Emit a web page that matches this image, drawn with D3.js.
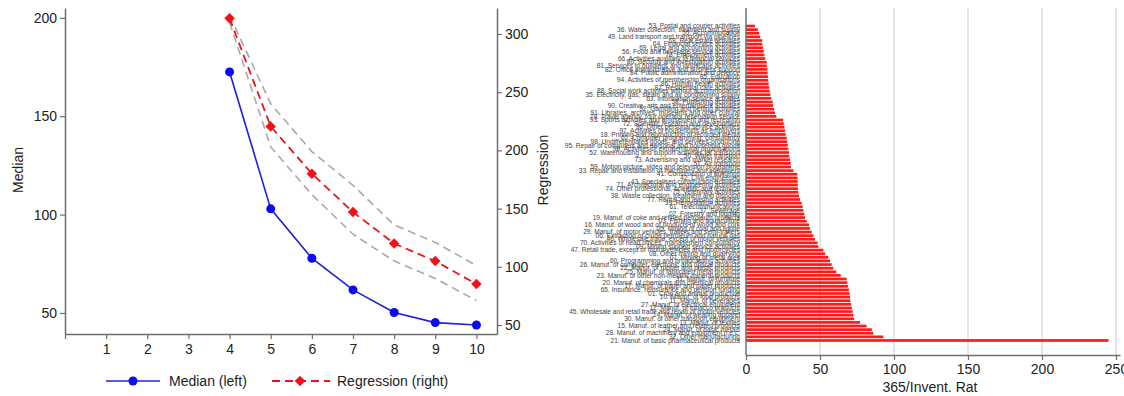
<!DOCTYPE html>
<html><head><meta charset="utf-8">
<script src="https://cdn.jsdelivr.net/npm/d3@7"></script>
<style>
html,body{margin:0;padding:0;background:#fff;}
svg{display:block;font-family:"Liberation Sans",Arial,sans-serif;}
</style></head>
<body><svg id="c" width="1124" height="396"></svg>
<script>
// ---- Left chart data ----
const deciles = [4, 5, 6, 7, 8, 9, 10];
const medianVals = [172.5, 102.9, 77.8, 61.7, 50.2, 45.1, 43.9];
const regressionVals = [313.4, 220.6, 180, 147, 120, 104.9, 85.2];
const regUpper = [316, 240, 199, 170, 136, 121, 101];
const regLower = [310, 203, 162, 128, 105, 90, 71];
const xTicks = [1, 2, 3, 4, 5, 6, 7, 8, 9, 10];
const leftTicks = [50, 100, 150, 200];
const rightTicks = [50, 100, 150, 200, 250, 300];

// ---- Right chart data ----
const sectors = [
"53. Postal and courier activities","36. Water collection, treatment and supply","55. Accommodation",
"49. Land transport and transport via pipelines","68. Real estate activities","64. Financial service activities",
"69. Legal and accounting activities","56. Food and beverage service activities","78. Employment activities",
"66. Activities auxiliary to financial services","80. Security and investigation activities",
"81. Services to buildings and landscape activities","82. Office administrative and business support",
"84. Public administration and defence","85. Education","94. Activities of membership organisations",
"86. Human health activities","87. Residential care activities","88. Social work activities without accommodation",
"35. Electricity, gas, steam and air conditioning supply","63. Information service activities",
"58. Publishing activities","90. Creative, arts and entertainment activities","92. Gambling and betting activities",
"91. Libraries, archives, museums and other cultural","79. Travel agency, tour operator reservation service",
"93. Sports activities and amusement and recreation","72. Scientific research and development",
"96. Other personal service activities","97. Activities of households as employers",
"18. Printing and reproduction of recorded media","62. Computer programming, consultancy",
"98. Undifferentiated goods- and services-producing","95. Repair of computers and personal and household goods",
"99. Activities of extraterritorial organisations","52. Warehousing and support activities for transport",
"50. Water transport","73. Advertising and market research","51. Air transport",
"59. Motion picture, video and television programme","33. Repair and installation of machinery and equipment",
"41. Construction of buildings","42. Civil engineering","43. Specialised construction activities",
"71. Architectural and engineering activities","74. Other professional, scientific and technical",
"75. Veterinary activities","38. Waste collection, treatment and disposal","77. Rental and leasing activities",
"39. Remediation activities","61. Telecommunications","37. Sewerage","02. Forestry and logging",
"19. Manuf. of coke and refined petroleum products","03. Fishing and aquaculture",
"16. Manuf. of wood and of products of wood and cork","05. Mining of coal and lignite",
"29. Manuf. of motor vehicles, trailers and semi-trailers","06. Extraction of crude petroleum and natural gas",
"46. Wholesale trade, except of motor vehicles","70. Activities of head offices; management consultancy",
"09. Mining support service activities","47. Retail trade, except of motor vehicles and motorcycles",
"08. Other mining and quarrying","07. Mining of metal ores","60. Programming and broadcasting activities",
"26. Manuf. of computer, electronic and optical products","22. Manuf. of rubber and plastic products",
"25. Manuf. of fabricated metal products","23. Manuf. of other non-metallic mineral products",
"31. Manuf. of furniture","20. Manuf. of chemicals and chemical products","17. Manuf. of paper and paper products",
"65. Insurance, reinsurance and pension funding","01. Crop and animal production","10. Manuf. of food products",
"11. Manuf. of beverages","27. Manuf. of electrical equipment","12. Manuf. of tobacco products",
"45. Wholesale and retail trade and repair of motor vehicles","14. Manuf. of wearing apparel",
"30. Manuf. of other transport equipment","13. Manuf. of textiles","15. Manuf. of leather and related products",
"24. Manuf. of basic metals","28. Manuf. of machinery and equipment n.e.c.","32. Other manufacturing",
"21. Manuf. of basic pharmaceutical products"
];
const sectorVals = [
6, 8, 9, 9.5, 11, 11, 11.5, 12, 12.4, 13, 14, 14, 14.5, 14.6, 14.8, 15, 15.3, 15.6, 16, 16.5,
17, 18, 18.3, 19, 19.6, 20.5, 25, 25.5, 26,
26.4, 26.8, 27.5, 27.9, 28.2, 28.6, 29.1, 29.3, 29.7, 30.2, 30.4, 32,
34.6, 34.8, 34.9, 35, 35.1,
35.4, 35.8, 36.5, 37.6, 38.3, 38.7, 39.4, 39.9, 41, 42.6, 43.2, 44.4, 45.5, 46.6, 48.4,
48.9, 52.3, 53.4, 55.6, 56.8, 57.9,
59, 61, 64, 68, 68.5, 69, 69.5, 70, 70.3, 70.5, 71, 71.5, 72, 72.5, 73, 77, 81.5, 85, 86, 92.8, 245
];
const barTicks = [0, 50, 100, 150, 200, 250];

const svg = d3.select("#c");
const axisCol = "#6e6e6e", textCol = "#222";

// ================= LEFT CHART =================
const x = d3.scaleLinear().domain([0, 10.5]).range([65, 497]);
const yL = d3.scaleLinear().domain([39.3, 205]).range([334, 8]);
const yR = d3.scaleLinear().domain([42.3, 322.3]).range([334, 8]);

function styleAxis(g){
  g.select(".domain").attr("stroke", axisCol).attr("stroke-width", 1.5);
  g.selectAll(".tick line").attr("stroke", axisCol).attr("stroke-width", 1.2);
  g.selectAll(".tick text").attr("fill", textCol).style("font-size", "14px").style("font-family", '"Liberation Sans",Arial,sans-serif');
}

svg.append("g").attr("transform", "translate(0,334)")
  .call(d3.axisBottom(x).tickValues([0].concat(xTicks)).tickFormat(d => d === 0 ? "" : d).tickSize(5).tickSizeOuter(0).tickPadding(5))
  .call(styleAxis);
svg.append("g").attr("transform", "translate(65,0)")
  .call(d3.axisLeft(yL).tickValues(leftTicks).tickSize(5).tickSizeOuter(0).tickPadding(3))
  .call(styleAxis);
svg.append("g").attr("transform", "translate(497,0)")
  .call(d3.axisRight(yR).tickValues(rightTicks).tickSize(5).tickSizeOuter(0).tickPadding(3))
  .call(styleAxis);

svg.append("text").attr("transform", "translate(23,170) rotate(-90)").attr("text-anchor", "middle")
  .attr("fill", textCol).style("font-size", "14px").text("Median");
svg.append("text").attr("transform", "translate(548,170) rotate(-90)").attr("text-anchor", "middle")
  .attr("fill", textCol).style("font-size", "14px").text("Regression");

const bandLine = d3.line().x((d, i) => x(deciles[i])).y(d => yR(d));
[regUpper, regLower].forEach(arr => {
  svg.append("path").attr("d", bandLine(arr)).attr("fill", "none")
    .attr("stroke", "#a9a9a9").attr("stroke-width", 1.6).attr("stroke-dasharray", "8,5");
});

svg.append("path").attr("d", bandLine(regressionVals)).attr("fill", "none")
  .attr("stroke", "#e8141b").attr("stroke-width", 1.8).attr("stroke-dasharray", "8,5");
svg.selectAll(".rm").data(regressionVals).join("path")
  .attr("d", d3.symbol().type(d3.symbolSquare).size(55))
  .attr("transform", (d, i) => `translate(${x(deciles[i])},${yR(d)}) rotate(45)`)
  .attr("fill", "#f2111a");

const medLine = d3.line().x((d, i) => x(deciles[i])).y(d => yL(d));
svg.append("path").attr("d", medLine(medianVals)).attr("fill", "none")
  .attr("stroke", "#1f1fe0").attr("stroke-width", 1.6);
svg.selectAll(".mm").data(medianVals).join("circle")
  .attr("cx", (d, i) => x(deciles[i])).attr("cy", d => yL(d)).attr("r", 4.5).attr("fill", "#0a0af5");

// Legend
const lg = svg.append("g");
lg.append("line").attr("x1", 106).attr("x2", 160).attr("y1", 381).attr("y2", 381).attr("stroke", "#1f1fe0").attr("stroke-width", 1.6);
lg.append("circle").attr("cx", 133).attr("cy", 381).attr("r", 4.5).attr("fill", "#0a0af5");
lg.append("text").attr("x", 169).attr("y", 386).attr("fill", textCol).style("font-size", "14px").text("Median (left)");
lg.append("line").attr("x1", 272).attr("x2", 330).attr("y1", 381).attr("y2", 381).attr("stroke", "#e8141b").attr("stroke-width", 1.8).attr("stroke-dasharray", "8,5");
lg.append("path").attr("d", d3.symbol().type(d3.symbolSquare).size(55)).attr("transform", "translate(300,381) rotate(45)").attr("fill", "#f2111a");
lg.append("text").attr("x", 337).attr("y", 386).attr("fill", textCol).style("font-size", "14px").text("Regression (right)");

// ================= RIGHT CHART =================
const xb = d3.scaleLinear().domain([0, 252.7]).range([746, 1120]);
const yb = d3.scaleBand().domain(sectors).range([24.5, 342]).paddingInner(0.25).paddingOuter(0.05);

// gridlines
svg.append("g").selectAll("line").data(barTicks.filter(d => d > 0)).join("line")
  .attr("x1", d => xb(d)).attr("x2", d => xb(d)).attr("y1", 8).attr("y2", 355)
  .attr("stroke", "#dcdcdc").attr("stroke-width", 1.5);

svg.append("g").selectAll("rect").data(sectorVals).join("rect")
  .attr("x", xb(0)).attr("y", (d, i) => yb(sectors[i]))
  .attr("width", d => xb(d) - xb(0)).attr("height", yb.bandwidth())
  .attr("fill", "#ff1a1a");

svg.append("g").selectAll("text").data(sectors).join("text")
  .attr("x", 740).attr("y", d => yb(d) + yb.bandwidth() / 2 + 2.2)
  .attr("text-anchor", "end").attr("fill", "#444").style("font-size", "6.6px").text(d => d);

svg.append("line").attr("x1", 746).attr("x2", 746).attr("y1", 8).attr("y2", 355)
  .attr("stroke", axisCol).attr("stroke-width", 1.5);
svg.append("g").attr("transform", "translate(0,355)")
  .call(d3.axisBottom(xb).tickValues(barTicks).tickSize(5).tickSizeOuter(0).tickPadding(4))
  .call(styleAxis);
svg.append("text").attr("x", 930).attr("y", 392).attr("text-anchor", "middle").attr("fill", textCol)
  .style("font-size", "14px").text("365/Invent. Rat");
</script></body></html>
